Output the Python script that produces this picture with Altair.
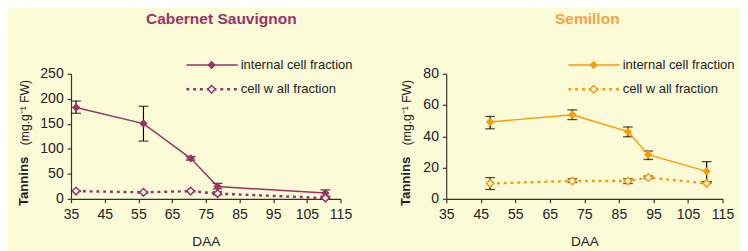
import altair as alt
import pandas as pd

# ---- data ----
series_names = ["internal cell fraction", "cell w all fraction"]

cs_daa = [36.5, 56.5, 70.5, 78.5, 110.5]
cs_int = [182.5, 150.5, 81, 24.5, 11.5]
cs_int_lo = [171, 115.5, 77.5, 20, 5.5]
cs_int_hi = [195.5, 185, 84.5, 31, 18]
cs_wall = [15.5, 13, 15.5, 10.5, 1.5]
cs_wall_lo = [14.5, 11.5, 14.5, 8, 0.5]
cs_wall_hi = [16.5, 14.5, 16.5, 14, 3]

sem_daa = [47.7, 71.5, 87.6, 93.5, 110.4]
sem_int = [49.2, 53.8, 43, 28.3, 17.6]
sem_int_lo = [44.8, 50.7, 39.7, 25.2, 10.7]
sem_int_hi = [52.7, 56.9, 46, 30.6, 23.8]
sem_wall = [9.9, 11.4, 11.4, 13.6, 9.9]
sem_wall_lo = [6, 10.5, 9.8, 13, 9.9]
sem_wall_hi = [13.6, 12.8, 12.8, 14.6, 11]

x_ticks = list(range(35, 116, 10))

FONT = "Liberation Sans"
BG = "#fbfbd8"
LBL = 14.5


def panel(title, title_color, color, daa, iv, ilo, ihi, wv, wlo, whi,
          ymax, ystep, width, height, leg_x0, yt_x, title_dx):
    df_int = pd.DataFrame({"daa": daa, "v": iv, "lo": ilo, "hi": ihi,
                           "series": series_names[0]})
    df_wall = pd.DataFrame({"daa": daa, "v": wv, "lo": wlo, "hi": whi,
                            "series": series_names[1]})
    df_all = pd.concat([df_int, df_wall])

    xenc = alt.X("daa:Q",
                 scale=alt.Scale(domain=[35, 115], nice=False, zero=False),
                 axis=alt.Axis(values=x_ticks, title="DAA", grid=False,
                               tickSize=4, labelPadding=5, labelFlush=False,
                               labelOverlap=False,
                               titlePadding=15, domainColor="#333",
                               tickColor="#333", labelColor="#222",
                               titleColor="#222", labelFontSize=LBL,
                               titleFontSize=14, titleFontWeight="normal",
                               labelFont=FONT, titleFont=FONT))

    def yenc(field):
        return alt.Y(field + ":Q",
                     scale=alt.Scale(domain=[0, ymax], nice=False),
                     axis=alt.Axis(values=list(range(0, ymax + 1, ystep)),
                                   title=None, grid=False, tickSize=4,
                                   labelOverlap=False, labelFlush=False,
                                   labelPadding=4, domainColor="#333",
                                   tickColor="#333", labelColor="#222",
                                   labelFontSize=LBL, labelFont=FONT))

    base = alt.Chart(df_all)
    err = base.mark_rule(color="black", strokeWidth=1.2).encode(
        x=xenc, y=yenc("lo"), y2="hi:Q")
    cap_lo = base.mark_tick(color="black", orient="horizontal", size=10,
                            thickness=1.3).encode(x=xenc, y=yenc("lo"))
    cap_hi = base.mark_tick(color="black", orient="horizontal", size=10,
                            thickness=1.3).encode(x=xenc, y=yenc("hi"))

    line_int = alt.Chart(df_int).mark_line(color=color, strokeWidth=1.5).encode(
        x=xenc, y=yenc("v"))
    line_wall = alt.Chart(df_wall).mark_line(
        color=color, strokeWidth=2.5, strokeDash=[3, 4]).encode(
        x=xenc, y=yenc("v"))
    pt_int = alt.Chart(df_int).mark_point(
        shape="diamond", filled=True, color=color, size=75, opacity=1).encode(
        x=xenc, y=yenc("v"))
    pt_wall = alt.Chart(df_wall).mark_point(
        shape="diamond", filled=True, fill="white", stroke=color,
        strokeWidth=1.5, size=60, opacity=1).encode(x=xenc, y=yenc("v"))

    # legend (decoration)
    leg1 = pd.DataFrame({"label": [series_names[0]]})
    leg2 = pd.DataFrame({"label": [series_names[1]]})
    y1, y2 = -9, 16
    l1 = alt.Chart(leg1).mark_rule(color=color, strokeWidth=1.5).encode(
        x=alt.value(leg_x0), x2=alt.value(leg_x0 + 53), y=alt.value(y1))
    p1 = alt.Chart(leg1).mark_point(shape="diamond", filled=True, color=color,
                                    size=75, opacity=1).encode(
        x=alt.value(leg_x0 + 26), y=alt.value(y1))
    t1 = alt.Chart(leg1).mark_text(align="left", baseline="middle",
                                   fontSize=13.4, font=FONT, color="#222").encode(
        x=alt.value(leg_x0 + 56), y=alt.value(y1), text="label:N")
    l2 = alt.Chart(leg2).mark_rule(color=color, strokeWidth=2.5,
                                   strokeDash=[3, 4]).encode(
        x=alt.value(leg_x0), x2=alt.value(leg_x0 + 53), y=alt.value(y2))
    p2 = alt.Chart(leg2).mark_point(shape="diamond", filled=True, fill="white",
                                    stroke=color, strokeWidth=1.5, size=60,
                                    opacity=1).encode(
        x=alt.value(leg_x0 + 26), y=alt.value(y2))
    t2 = alt.Chart(leg2).mark_text(align="left", baseline="middle",
                                   fontSize=13.4, font=FONT, color="#222").encode(
        x=alt.value(leg_x0 + 56), y=alt.value(y2), text="label:N")

    # y axis title in two weights
    yt = pd.DataFrame({"a": ["Tannins"], "b": ["(mg.g\u207b\u00b9 FW)"]})
    yt1 = alt.Chart(yt).mark_text(angle=270, fontWeight="bold", fontSize=13.5,
                                  font=FONT, color="#222", baseline="middle",
                                  align="center").encode(
        x=alt.value(yt_x), y=alt.value(height - 18), text="a:N")
    yt2 = alt.Chart(yt).mark_text(angle=270, fontSize=12.5, font=FONT,
                                  color="#222", baseline="middle",
                                  align="center").encode(
        x=alt.value(yt_x + 1), y=alt.value(40), text="b:N")

    return alt.layer(err, cap_lo, cap_hi, line_int, line_wall, pt_int, pt_wall,
                     l1, p1, t1, l2, p2, t2, yt1, yt2).properties(
        width=width, height=height,
        title=alt.TitleParams(title, color=title_color, fontSize=16,
                              fontWeight="bold", font=FONT, anchor="middle",
                              offset=32, dx=title_dx))


left = panel("Cabernet Sauvignon", "#9c3368", "#993366",
             cs_daa, cs_int, cs_int_lo, cs_int_hi, cs_wall, cs_wall_lo,
             cs_wall_hi, 250, 50, 278, 129, 119, -48, 16)
right = panel("Semillon", "#f9a048", "#ff9900",
              sem_daa, sem_int, sem_int_lo, sem_int_hi, sem_wall, sem_wall_lo,
              sem_wall_hi, 80, 20, 285, 129, 126, -41, 3)

chart = alt.hconcat(left, right, spacing=48).properties(
    background=BG, padding={"left": 10, "top": 0, "right": 5, "bottom": 0}
).configure_view(stroke=None).configure_axis(domainWidth=1.2, tickWidth=1.2)

chart.save("out.html", embed_options={"renderer": "svg", "actions": False})
